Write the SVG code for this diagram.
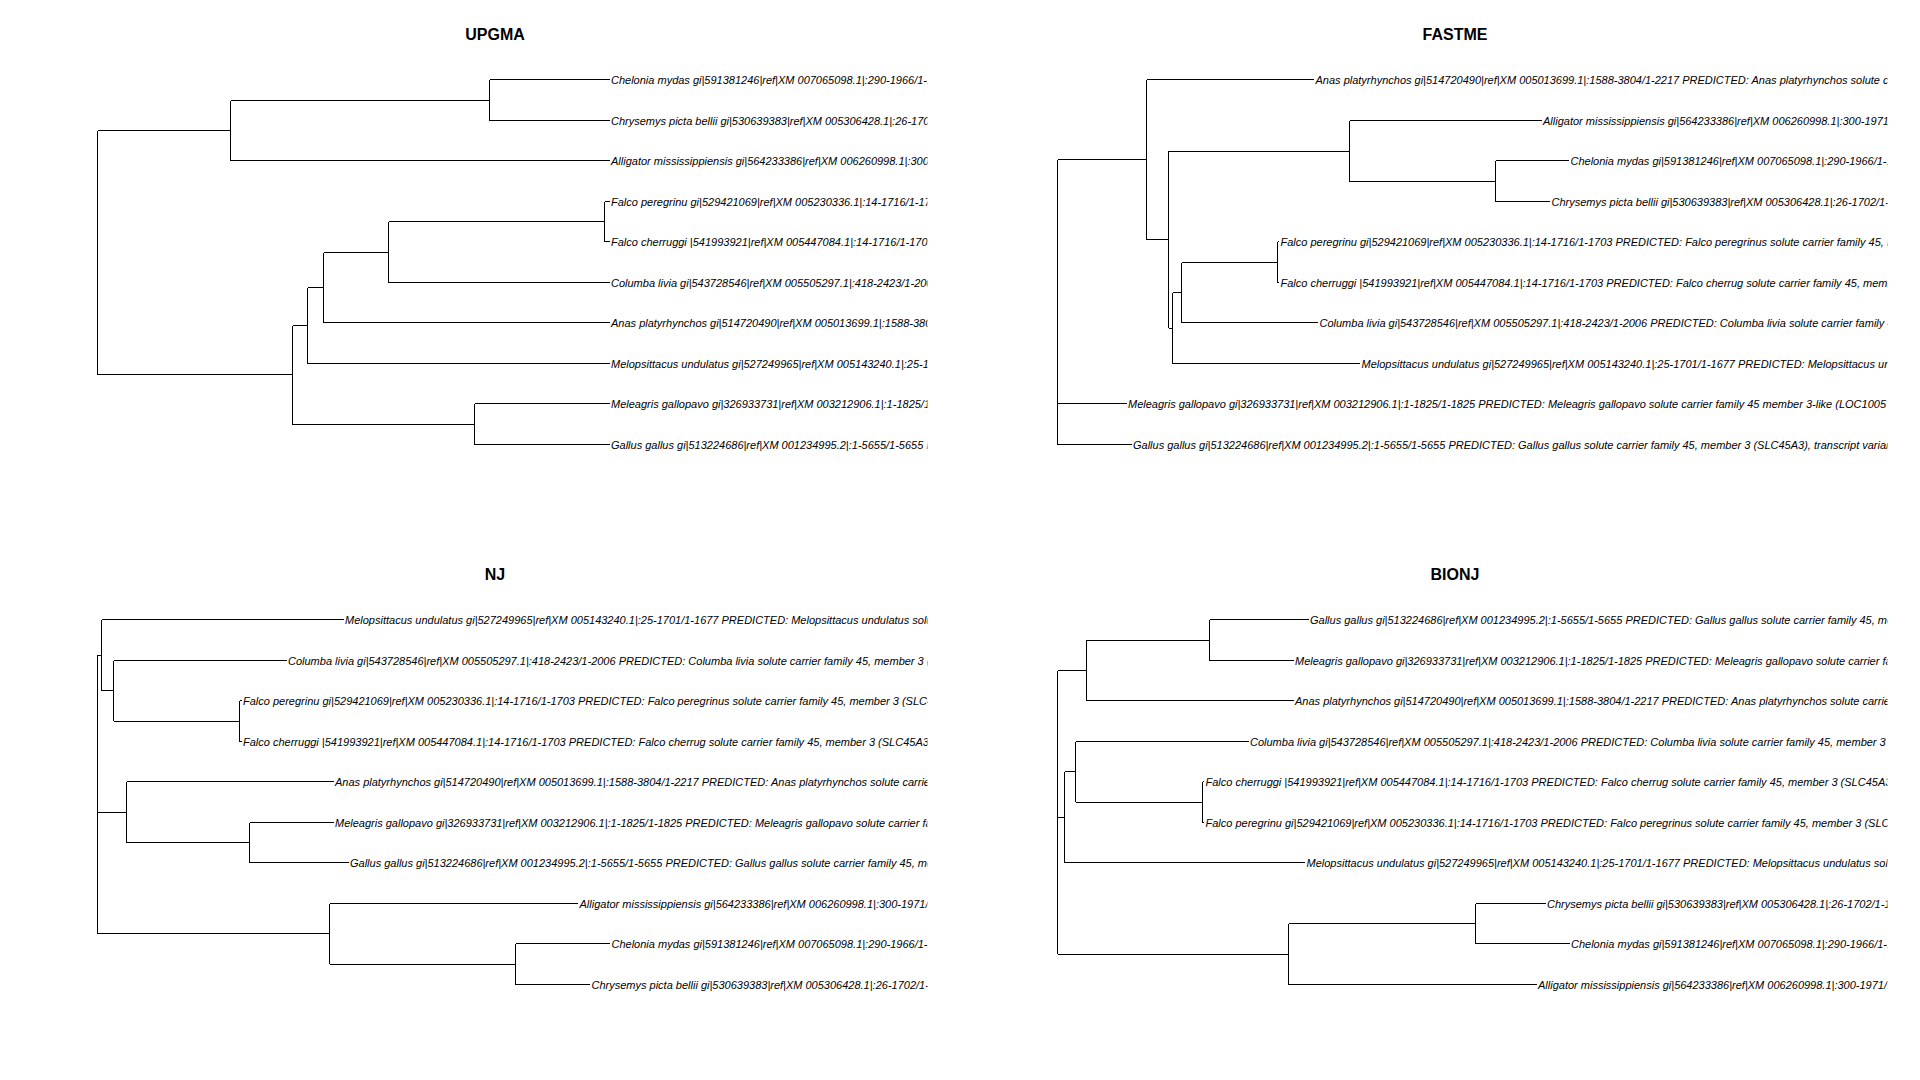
<svg xmlns="http://www.w3.org/2000/svg" width="1920" height="1080" viewBox="0 0 1920 1080">
<style>
.title{font-family:"Liberation Sans",Arial,sans-serif;font-size:16px;font-weight:bold;fill:#000;text-anchor:middle}
.lab{font-family:"Liberation Sans",Arial,sans-serif;font-size:11px;font-style:italic;fill:#000}
.edge{fill:none;stroke:#000;stroke-width:1;shape-rendering:crispEdges}
</style>
<defs>
<clipPath id="clipL"><rect x="0" y="0" width="927.5" height="1080"/></clipPath>
<clipPath id="clipR"><rect x="960" y="0" width="927.5" height="1080"/></clipPath>
</defs>
<rect x="0" y="0" width="1920" height="1080" fill="#fff"/>

<text class="title" x="495" y="40">UPGMA</text>
<text class="title" x="1455" y="40">FASTME</text>
<text class="title" x="495" y="580">NJ</text>
<text class="title" x="1455" y="580">BIONJ</text>

<g id="connectors">
<path id="upgma-edges" class="edge" d="M97.5 130.5V374.5M97.5 130.5H230.5M97.5 374.5H292.5M230.5 100.5V160.5M230.5 100.5H489.5M230.5 160.5H609.5M489.5 79.5V120.5M489.5 79.5H609.5M489.5 120.5H609.5M292.5 325.5V424.5M292.5 325.5H307.5M292.5 424.5H474.5M307.5 287.5V363.5M307.5 287.5H323.5M307.5 363.5H609.5M323.5 252.5V322.5M323.5 252.5H388.5M323.5 322.5H609.5M388.5 221.5V282.5M388.5 221.5H604.5M388.5 282.5H609.5M604.5 201.5V241.5M604.5 201.5H609.5M604.5 241.5H609.5M474.5 403.5V444.5M474.5 403.5H609.5M474.5 444.5H609.5"/>
<path id="fastme-edges" class="edge" d="M1057.5 159.5V444.5M1057.5 159.5H1146.5M1057.5 403.5H1126.5M1057.5 444.5H1131.5M1146.5 79.5V239.5M1146.5 79.5H1314M1146.5 239.5H1168.5M1168.5 151V328M1168.5 151H1349.5M1168.5 328H1172.5M1349.5 120.5V181.5M1349.5 120.5H1541.5M1349.5 181.5H1495.5M1495.5 160.5V201.5M1495.5 160.5H1569M1495.5 201.5H1550M1172.5 292.5V363.5M1172.5 292.5H1181.5M1172.5 363.5H1360M1181.5 262.5V322.5M1181.5 262.5H1277.5M1181.5 322.5H1318M1277.5 241.5V282.5M1277.5 241.5H1279M1277.5 282.5H1279"/>
<path id="nj-edges" class="edge" d="M97.5 655V933.5M97.5 655H101.5M97.5 812H126.5M97.5 933.5H329.5M101.5 619.5V690.5M101.5 619.5H343.5M101.5 690.5H113.5M113.5 660.5V721M113.5 660.5H286.5M113.5 721H239.5M239.5 700.5V741.5M239.5 700.5H241.5M239.5 741.5H241.5M126.5 781.5V842.5M126.5 781.5H333.5M126.5 842.5H249.5M249.5 822.5V862.5M249.5 822.5H333.5M249.5 862.5H348.5M329.5 903.5V964M329.5 903.5H578M329.5 964H515.5M515.5 943.5V984.5M515.5 943.5H610M515.5 984.5H590"/>
<path id="bionj-edges" class="edge" d="M1057.5 670.5V954M1057.5 670.5H1086.5M1057.5 817H1064.5M1057.5 954H1288.5M1086.5 640V700.5M1086.5 640H1209.5M1086.5 700.5H1293.5M1209.5 619.5V660.5M1209.5 619.5H1308.5M1209.5 660.5H1293.5M1064.5 771.5V862.5M1064.5 771.5H1075.5M1064.5 862.5H1305M1075.5 741.5V802M1075.5 741.5H1248.5M1075.5 802H1202.5M1202.5 781.5V822.5M1202.5 781.5H1204M1202.5 822.5H1204M1288.5 923.5V984.5M1288.5 923.5H1475.5M1288.5 984.5H1536.5M1475.5 903.5V943.5M1475.5 903.5H1545.5M1475.5 943.5H1569.5"/>
</g>

<g id="upgma-tips" clip-path="url(#clipL)">
<g id="upgma-chelonia"><text class="lab" x="611" y="83.5">Chelonia mydas gi|591381246|ref|XM 007065098.1|:290-1966/1-16</text></g>
<g id="upgma-chrysemys"><text class="lab" x="611" y="124.5">Chrysemys picta bellii gi|530639383|ref|XM 005306428.1|:26-1702</text></g>
<g id="upgma-alligator"><text class="lab" x="611" y="164.5">Alligator mississippiensis gi|564233386|ref|XM 006260998.1|:300-1</text></g>
<g id="upgma-falcop"><text class="lab" x="611" y="205.5">Falco peregrinu gi|529421069|ref|XM 005230336.1|:14-1716/1-170</text></g>
<g id="upgma-falcoc"><text class="lab" x="611" y="245.5">Falco cherruggi |541993921|ref|XM 005447084.1|:14-1716/1-1703</text></g>
<g id="upgma-columba"><text class="lab" x="611" y="286.5">Columba livia gi|543728546|ref|XM 005505297.1|:418-2423/1-200</text></g>
<g id="upgma-anas"><text class="lab" x="611" y="326.5">Anas platyrhynchos gi|514720490|ref|XM 005013699.1|:1588-3804</text></g>
<g id="upgma-melopsittacus"><text class="lab" x="611" y="367.5">Melopsittacus undulatus gi|527249965|ref|XM 005143240.1|:25-170</text></g>
<g id="upgma-meleagris"><text class="lab" x="611" y="407.5">Meleagris gallopavo gi|326933731|ref|XM 003212906.1|:1-1825/1-18</text></g>
<g id="upgma-gallus"><text class="lab" x="611" y="448.5">Gallus gallus gi|513224686|ref|XM 001234995.2|:1-5655/1-5655 PR</text></g>
</g>

<g id="fastme-tips" clip-path="url(#clipR)">
<g id="fastme-anas"><text class="lab" x="1315.5" y="83.5">Anas platyrhynchos gi|514720490|ref|XM 005013699.1|:1588-3804/1-2217 PREDICTED: Anas platyrhynchos solute carr</text></g>
<g id="fastme-alligator"><text class="lab" x="1543" y="124.5">Alligator mississippiensis gi|564233386|ref|XM 006260998.1|:300-1971/1</text></g>
<g id="fastme-chelonia"><text class="lab" x="1570.5" y="164.5">Chelonia mydas gi|591381246|ref|XM 007065098.1|:290-1966/1-16</text></g>
<g id="fastme-chrysemys"><text class="lab" x="1551.5" y="205.5">Chrysemys picta bellii gi|530639383|ref|XM 005306428.1|:26-1702/1-16</text></g>
<g id="fastme-falcop"><text class="lab" x="1280.5" y="245.5">Falco peregrinu gi|529421069|ref|XM 005230336.1|:14-1716/1-1703 PREDICTED: Falco peregrinus solute carrier family 45, me</text></g>
<g id="fastme-falcoc"><text class="lab" x="1280.5" y="286.5">Falco cherruggi |541993921|ref|XM 005447084.1|:14-1716/1-1703 PREDICTED: Falco cherrug solute carrier family 45, memb</text></g>
<g id="fastme-columba"><text class="lab" x="1319.5" y="326.5">Columba livia gi|543728546|ref|XM 005505297.1|:418-2423/1-2006 PREDICTED: Columba livia solute carrier family 4</text></g>
<g id="fastme-melopsittacus"><text class="lab" x="1361.5" y="367.5">Melopsittacus undulatus gi|527249965|ref|XM 005143240.1|:25-1701/1-1677 PREDICTED: Melopsittacus und</text></g>
<g id="fastme-meleagris"><text class="lab" x="1128" y="407.5">Meleagris gallopavo gi|326933731|ref|XM 003212906.1|:1-1825/1-1825 PREDICTED: Meleagris gallopavo solute carrier family 45 member 3-like (LOC1005</text></g>
<g id="fastme-gallus"><text class="lab" x="1133" y="448.5">Gallus gallus gi|513224686|ref|XM 001234995.2|:1-5655/1-5655 PREDICTED: Gallus gallus solute carrier family 45, member 3 (SLC45A3), transcript varian</text></g>
</g>

<g id="nj-tips" clip-path="url(#clipL)">
<g id="nj-melopsittacus"><text class="lab" x="345" y="623.5">Melopsittacus undulatus gi|527249965|ref|XM 005143240.1|:25-1701/1-1677 PREDICTED: Melopsittacus undulatus solu</text></g>
<g id="nj-columba"><text class="lab" x="288" y="664.5">Columba livia gi|543728546|ref|XM 005505297.1|:418-2423/1-2006 PREDICTED: Columba livia solute carrier family 45, member 3 (</text></g>
<g id="nj-falcop"><text class="lab" x="243" y="704.5">Falco peregrinu gi|529421069|ref|XM 005230336.1|:14-1716/1-1703 PREDICTED: Falco peregrinus solute carrier family 45, member 3 (SLC4</text></g>
<g id="nj-falcoc"><text class="lab" x="243" y="745.5">Falco cherruggi |541993921|ref|XM 005447084.1|:14-1716/1-1703 PREDICTED: Falco cherrug solute carrier family 45, member 3 (SLC45A3)</text></g>
<g id="nj-anas"><text class="lab" x="335" y="785.5">Anas platyrhynchos gi|514720490|ref|XM 005013699.1|:1588-3804/1-2217 PREDICTED: Anas platyrhynchos solute carrier</text></g>
<g id="nj-meleagris"><text class="lab" x="335" y="826.5">Meleagris gallopavo gi|326933731|ref|XM 003212906.1|:1-1825/1-1825 PREDICTED: Meleagris gallopavo solute carrier fa</text></g>
<g id="nj-gallus"><text class="lab" x="350" y="866.5">Gallus gallus gi|513224686|ref|XM 001234995.2|:1-5655/1-5655 PREDICTED: Gallus gallus solute carrier family 45, me</text></g>
<g id="nj-alligator"><text class="lab" x="579.5" y="907.5">Alligator mississippiensis gi|564233386|ref|XM 006260998.1|:300-1971/1</text></g>
<g id="nj-chelonia"><text class="lab" x="611.5" y="947.5">Chelonia mydas gi|591381246|ref|XM 007065098.1|:290-1966/1-16</text></g>
<g id="nj-chrysemys"><text class="lab" x="591.5" y="988.5">Chrysemys picta bellii gi|530639383|ref|XM 005306428.1|:26-1702/1-16</text></g>
</g>

<g id="bionj-tips" clip-path="url(#clipR)">
<g id="bionj-gallus"><text class="lab" x="1310" y="623.5">Gallus gallus gi|513224686|ref|XM 001234995.2|:1-5655/1-5655 PREDICTED: Gallus gallus solute carrier family 45, me</text></g>
<g id="bionj-meleagris"><text class="lab" x="1295" y="664.5">Meleagris gallopavo gi|326933731|ref|XM 003212906.1|:1-1825/1-1825 PREDICTED: Meleagris gallopavo solute carrier fa</text></g>
<g id="bionj-anas"><text class="lab" x="1295" y="704.5">Anas platyrhynchos gi|514720490|ref|XM 005013699.1|:1588-3804/1-2217 PREDICTED: Anas platyrhynchos solute carrier</text></g>
<g id="bionj-columba"><text class="lab" x="1250" y="745.5">Columba livia gi|543728546|ref|XM 005505297.1|:418-2423/1-2006 PREDICTED: Columba livia solute carrier family 45, member 3 (</text></g>
<g id="bionj-falcoc"><text class="lab" x="1205.5" y="785.5">Falco cherruggi |541993921|ref|XM 005447084.1|:14-1716/1-1703 PREDICTED: Falco cherrug solute carrier family 45, member 3 (SLC45A3)</text></g>
<g id="bionj-falcop"><text class="lab" x="1205.5" y="826.5">Falco peregrinu gi|529421069|ref|XM 005230336.1|:14-1716/1-1703 PREDICTED: Falco peregrinus solute carrier family 45, member 3 (SLC4</text></g>
<g id="bionj-melopsittacus"><text class="lab" x="1306.5" y="866.5">Melopsittacus undulatus gi|527249965|ref|XM 005143240.1|:25-1701/1-1677 PREDICTED: Melopsittacus undulatus solu</text></g>
<g id="bionj-chrysemys"><text class="lab" x="1547" y="907.5">Chrysemys picta bellii gi|530639383|ref|XM 005306428.1|:26-1702/1-16</text></g>
<g id="bionj-chelonia"><text class="lab" x="1571" y="947.5">Chelonia mydas gi|591381246|ref|XM 007065098.1|:290-1966/1-16</text></g>
<g id="bionj-alligator"><text class="lab" x="1538" y="988.5">Alligator mississippiensis gi|564233386|ref|XM 006260998.1|:300-1971/1</text></g>
</g>
</svg>
